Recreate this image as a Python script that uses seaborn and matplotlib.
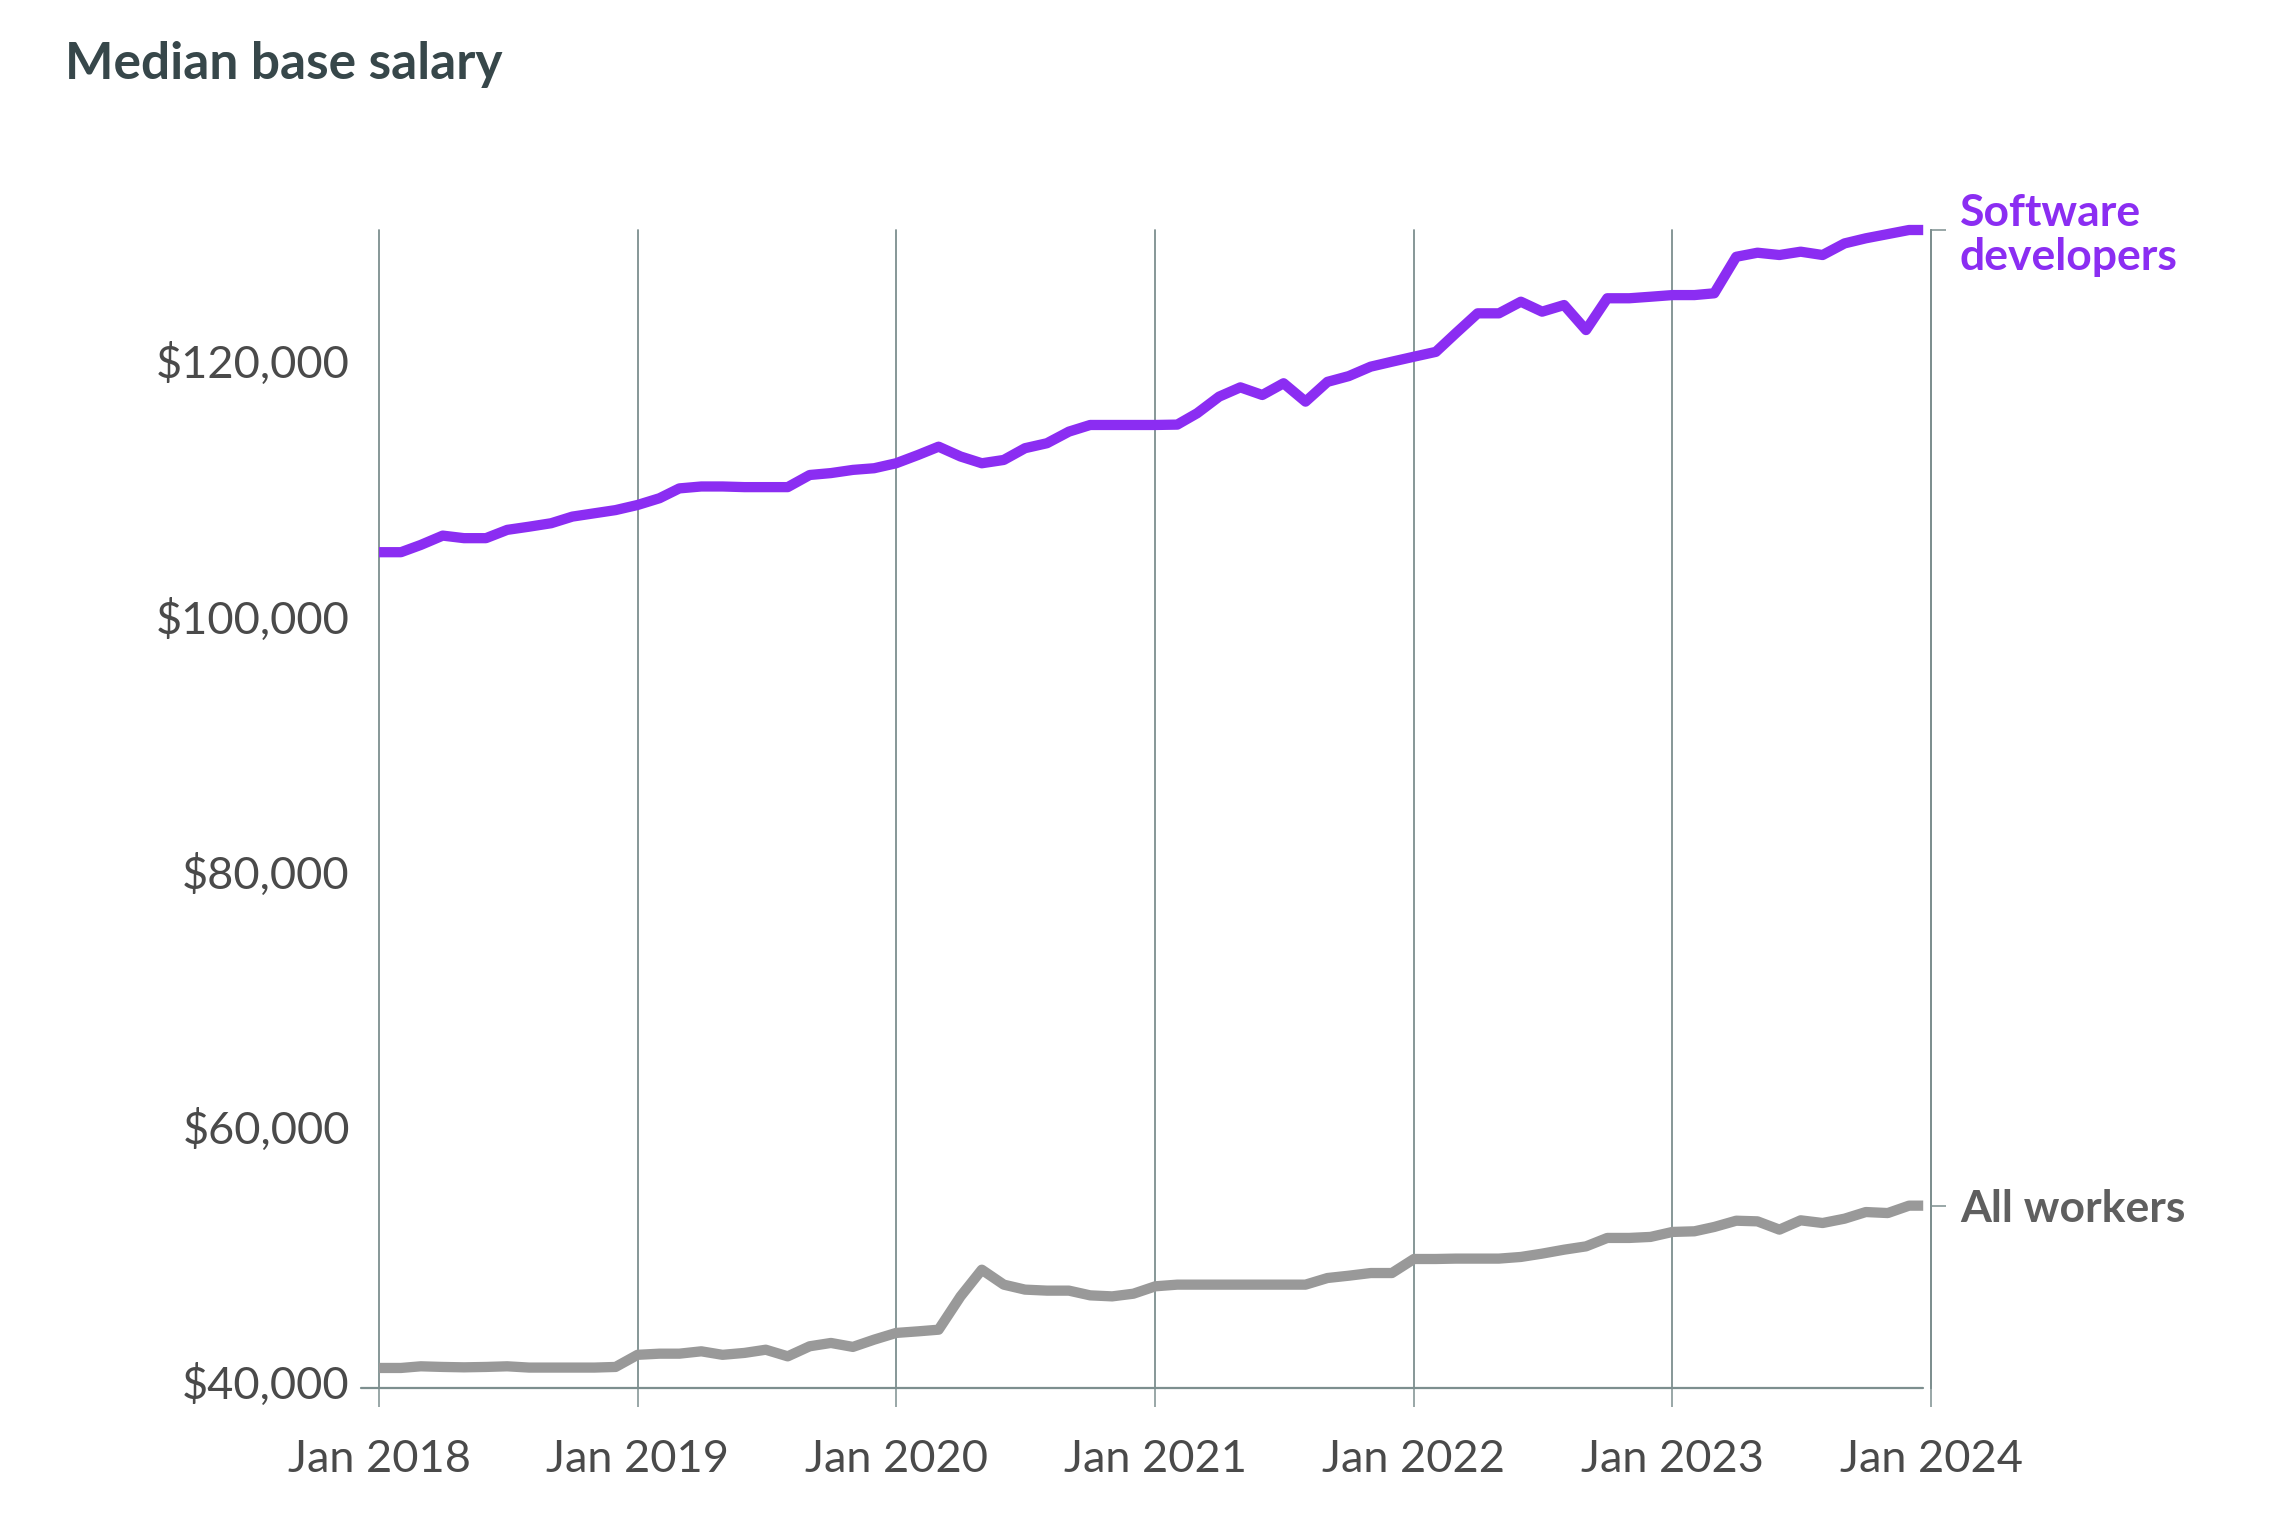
import matplotlib
matplotlib.use("Agg")
import matplotlib.pyplot as plt
import seaborn as sns
import pandas as pd
import numpy as np

# ---------------- data ----------------
# monthly observations Jan 2018 - Dec 2023, plus the final reading late in Dec 2023
dates = list(pd.date_range("2018-01-01", periods=72, freq="MS")) + [pd.Timestamp("2023-12-21")]

software_developers = [
    105000, 105000, 105570, 106300, 106100, 106100, 106750, 107000, 107270, 107790, 108050, 108300,  # 2018
    108700, 109230, 110000, 110150, 110150, 110100, 110100, 110100, 111050, 111200, 111450, 111580,  # 2019
    111970, 112620, 113270, 112500, 111970, 112230, 113150, 113540, 114450, 114970, 114970, 114970,  # 2020
    114970, 115000, 115890, 117190, 117920, 117320, 118240, 116800, 118350, 118800, 119540, 119930,  # 2021
    120320, 120700, 122150, 123720, 123720, 124630, 123850, 124370, 122410, 124900, 124900, 125020,  # 2022
    125150, 125150, 125290, 128150, 128470, 128290, 128550, 128290, 129200, 129600, 129930, 130250,  # 2023
    130250,
]

all_workers = [
    41070, 41070, 41200, 41150, 41120, 41150, 41200, 41100, 41100, 41100, 41100, 41150,  # 2018
    42100, 42190, 42190, 42375, 42100, 42250, 42500, 41980, 42770, 43030, 42720, 43290,  # 2019
    43815, 43940, 44070, 46680, 48770, 47600, 47210, 47130, 47130, 46760, 46680, 46890,  # 2020
    47470, 47600, 47600, 47600, 47600, 47600, 47600, 47600, 48120, 48300, 48510, 48510,  # 2021
    49610, 49610, 49640, 49640, 49640, 49770, 50030, 50340, 50600, 51260, 51260, 51340,  # 2022
    51730, 51780, 52120, 52610, 52560, 51910, 52640, 52430, 52770, 53290, 53210, 53790,  # 2023
    53790,
]

series_names = ["Software\ndevelopers", "All workers"]
series_colors = ["#8B2DF2", "#999999"]
label_colors = ["#8B2DF2", "#5f5f5f"]

x_tick_dates = pd.to_datetime(["2018-01-01", "2019-01-01", "2020-01-01", "2021-01-01",
                               "2022-01-01", "2023-01-01", "2024-01-01"])
x_tick_labels = ["Jan 2018", "Jan 2019", "Jan 2020", "Jan 2021", "Jan 2022", "Jan 2023", "Jan 2024"]
y_ticks = [40000, 60000, 80000, 100000, 120000]
y_tick_labels = ["$40,000", "$60,000", "$80,000", "$100,000", "$120,000"]
title = "Median base salary"

# ---------------- style ----------------
sns.set_theme(style="white")
plt.rcParams["font.family"] = ["Lato", "DejaVu Sans"]

W, H = 2281, 1524
fig = plt.figure(figsize=(W / 100, H / 100), dpi=100)
ax = fig.add_axes([379 / W, 1 - 1388 / H, 1552 / W, (1388 - 230) / H])

df = pd.concat([
    pd.DataFrame({"date": dates, "salary": software_developers, "series": series_names[0]}),
    pd.DataFrame({"date": dates, "salary": all_workers, "series": series_names[1]}),
])

sns.lineplot(data=df, x="date", y="salary", hue="series", hue_order=series_names,
             palette=series_colors, linewidth=7.4, legend=False, ax=ax)
for ln in ax.lines:
    ln.set_clip_on(False)
    ln.set_solid_capstyle("butt")
    ln.set_solid_joinstyle("round")

grid_color = "#7d8f8f"
ax.set_xlim(x_tick_dates[0], x_tick_dates[-1])
ax.set_ylim(39500, max(software_developers))

for s in ax.spines.values():
    s.set_visible(False)

ax.set_xticks(x_tick_dates)
ax.set_xticklabels(x_tick_labels)
ax.set_yticks(y_ticks)
ax.set_yticklabels(y_tick_labels)
ax.set_xlabel("")
ax.set_ylabel("")

ax.grid(True, axis="x", color=grid_color, linewidth=1.3)
ax.grid(False, axis="y")
for gl in ax.get_xgridlines():
    gl.set_clip_on(False)

ax.tick_params(axis="x", which="major", bottom=True, direction="out", length=13.7, width=1.1,
               color=grid_color, pad=23, labelsize=32.5, labelcolor="#4a4a4a")
ax.tick_params(axis="y", which="major", left=False, length=0, pad=21,
               labelsize=32.5, labelcolor="#4a4a4a")

# bottom baseline (extends slightly left of the first gridline)
ax.axhline(ax.get_ylim()[0], xmin=-0.0116, xmax=0.9948, color=grid_color, linewidth=1.6, clip_on=False)

# right-side series labels via twin axis
ax2 = ax.twinx()
ax2.set_ylim(ax.get_ylim())
for k, s in ax2.spines.items():
    s.set_visible(k == "right")
ax2.spines["right"].set_color(grid_color)
ax2.spines["right"].set_linewidth(1.3)
ax2.set_yticks([software_developers[-1], all_workers[-1]])
ax2.set_yticklabels(series_names)
ax2.tick_params(axis="y", right=True, direction="out", length=10.8, width=1.1, color=grid_color,
                pad=10, labelsize=32)
for lbl, c in zip(ax2.get_yticklabels(), label_colors):
    lbl.set_color(c)
    lbl.set_fontweight("bold")
    lbl.set_linespacing(1.12)
ax2.grid(False)

fig.text(65 / W, 1 - 79 / H, title, fontsize=37, fontweight="bold", color="#37474a",
         ha="left", va="baseline")

fig.savefig("out.png", dpi=100, facecolor="white")
